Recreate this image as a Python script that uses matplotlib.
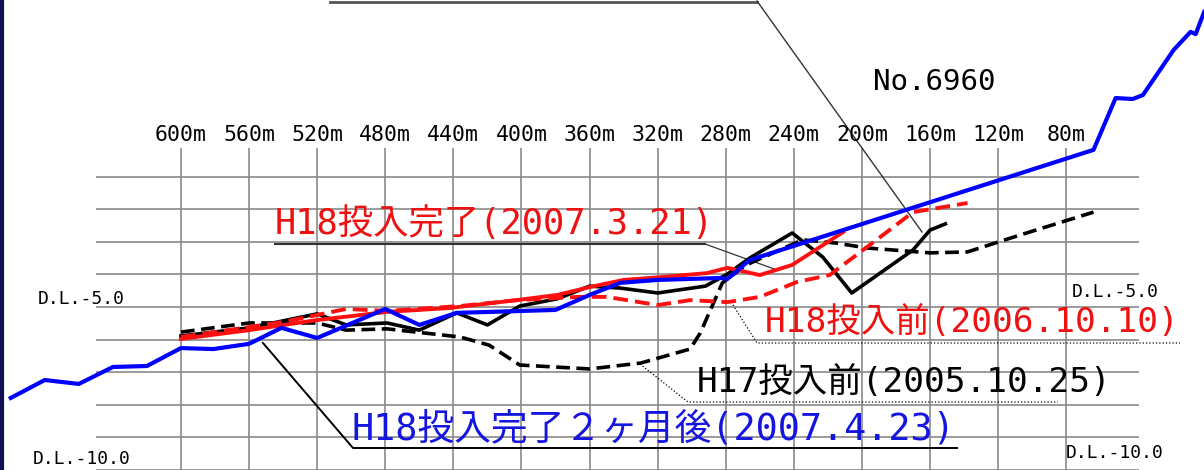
import numpy as np
import matplotlib.pyplot as plt

plt.rcParams['font.family'] = ['DejaVu Sans Mono', 'Noto Sans CJK JP']

# distance along river (m) and bed level (D.L. m)
blue_d = [700, 680, 660, 640, 620, 600, 581, 560, 541, 520, 480, 460, 438, 380,
          360, 342, 320, 283, 279, 266, 64, 51, 41, 35, 17, 7, 4, -1]
blue_e = [-7.79, -7.24, -7.36, -6.84, -6.81, -6.26, -6.29, -6.13, -5.64, -5.95,
          -5.06, -5.55, -5.18, -5.09, -4.63, -4.26, -4.17, -4.11, -4.14, -3.56,
          -0.18, 1.41, 1.38, 1.50, 2.88, 3.44, 3.37, 4.05]

red_d = [600, 560, 520, 479, 442, 403, 379, 360, 340, 317, 291, 279, 260, 241, 211]
red_e = [-5.98, -5.71, -5.40, -5.15, -5.03, -4.79, -4.63, -4.39, -4.17, -4.08,
         -3.96, -3.80, -4.02, -3.71, -2.70]

red_pre_d = [600, 540, 503, 479, 436, 403, 367, 350, 320, 301, 279, 260, 238,
             219, 197, 170, 138]
red_pre_e = [-5.92, -5.46, -5.06, -5.12, -4.97, -4.79, -4.69, -4.69, -4.94,
             -4.79, -4.85, -4.69, -4.23, -4.02, -3.16, -2.09, -1.81]

blk_d = [600, 560, 520, 503, 479, 460, 438, 420, 401, 379, 360, 342, 320, 292,
         279, 266, 241, 223, 206, 170, 160, 151]
blk_e = [-5.89, -5.64, -5.21, -5.55, -5.49, -5.71, -5.18, -5.55, -4.97, -4.75,
         -4.36, -4.42, -4.57, -4.36, -3.99, -3.50, -2.73, -3.47, -4.57, -3.25,
         -2.64, -2.45]

h17_d = [600, 560, 520, 503, 479, 436, 419, 401, 360, 330, 301, 295, 282, 268,
         235, 215, 197, 160, 138, 107, 64]
h17_e = [-5.77, -5.49, -5.49, -5.71, -5.67, -5.92, -6.17, -6.78, -6.90, -6.72,
         -6.29, -5.80, -4.26, -3.71, -2.94, -3.04, -3.19, -3.34, -3.31, -2.79,
         -2.09]

tick_d = [600, 560, 520, 480, 440, 400, 360, 320, 280, 240, 200, 160, 120, 80]
levels = [-1, -2, -3, -4, -5, -6, -7, -8, -9, -10]

fig = plt.figure(figsize=(12.04, 4.70), dpi=100)
ax = fig.add_axes([0, 0, 1, 1])
ax.set_xlim(706.3, -0.9)
ax.set_ylim(-10.0, 4.417)
ax.axis('off')

gc = '#8a8a8a'
ax.hlines(levels, 37, 650, color=gc, lw=1.2, zorder=1)
ax.vlines(tick_d, -10.5, -0.12, color=gc, lw=1.2, zorder=1)
for d in tick_d:
    ax.text(d, 0.28, f"{d}m", ha='center', va='center', fontsize=15.5)

ax.plot(h17_d, h17_e, color='black', lw=2.6, dashes=(3.8, 1.8), zorder=3)
ax.plot(blk_d, blk_e, color='black', lw=2.6, zorder=3)
ax.plot(red_pre_d, red_pre_e, color='#ff1010', lw=2.8, dashes=(3.8, 1.8), zorder=4)
ax.plot(red_d, red_e, color='#ff1010', lw=2.8, zorder=4)
ax.plot(blue_d, blue_e, color='#0000ff', lw=3.0, zorder=5)


def px(x, y):
    return x / 1204, 1 - y / 470


def leader(pts, **kw):
    xs, ys = zip(*[px(x, y) for x, y in pts])
    ax.plot(xs, ys, transform=ax.transAxes, zorder=2, **kw)


fig.text(*px(873, 82), "No.6960", ha='left', va='center', fontsize=21)
fig.text(*px(38, 299), "D.L.-5.0", ha='left', va='center', fontsize=13)
fig.text(*px(33, 459), "D.L.-10.0", ha='left', va='center', fontsize=13)
fig.text(*px(1072, 292), "D.L.-5.0", ha='left', va='center', fontsize=13)
fig.text(*px(1066, 453), "D.L.-10.0", ha='left', va='center', fontsize=13)

fig.text(*px(275, 224), "H18投入完了(2007.3.21)", ha='left', va='center',
         fontsize=25.5, color='#ee1111')
fig.text(*px(765, 323), "H18投入前(2006.10.10)", ha='left', va='center',
         fontsize=24.8, color='#ee1111')
fig.text(*px(697, 383), "H17投入前(2005.10.25)", ha='left', va='center',
         fontsize=24.8, color='black')
fig.text(*px(351, 429), "H18投入完了２ヶ月後(2007.4.23)", ha='left', va='center',
         fontsize=26.5, color='#1515e0')

leader([(275, 244), (705, 244)], color='#333333', lw=1.5)
leader([(705, 244), (777, 270)], color='#333333', lw=0.9)
leader([(733, 305), (757, 343), (1180, 343)], color='black', lw=0.9, ls=':')
leader([(640, 364), (688, 402), (1058, 402)], color='black', lw=0.9, ls=':')
leader([(263, 343), (353, 448), (957, 448)], color='black', lw=1.4)
leader([(330, 1.5), (757, 1.5)], color='#555555', lw=2)
leader([(757, 1), (922, 232)], color='#333333', lw=1)
leader([(1.5, 0), (1.5, 470)], color='#101050', lw=3)

fig.savefig('out.png', dpi=100, facecolor='white')
